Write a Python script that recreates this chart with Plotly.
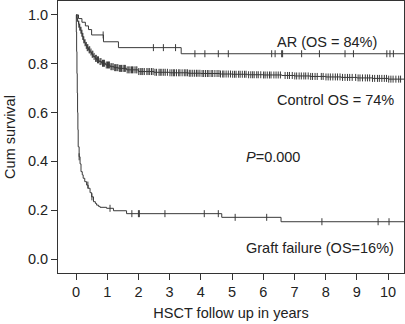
import numpy as np
import plotly.graph_objects as go

# ---- data ----
ar_t = [0, 0.08, 0.19, 0.30, 0.40, 0.50, 0.88, 1.36, 3.37, 10.6]
ar_s = [1.0, 0.985, 0.970, 0.955, 0.940, 0.918, 0.890, 0.866, 0.841, 0.841]
ar_cens = [0.87, 2.48, 2.80, 3.19, 3.81, 4.13, 4.56, 4.88, 6.27, 6.38, 6.59, 6.62,
           7.23, 7.80, 8.62, 8.89, 9.96, 10.06, 10.17]

ctrl_t = [0, 0.02, 0.05, 0.08, 0.11, 0.14, 0.17, 0.20, 0.23, 0.27, 0.31, 0.35, 0.40,
          0.45, 0.50, 0.55, 0.61, 0.66, 0.74, 0.82, 0.95, 1.09, 1.22, 1.36, 1.62, 2.0,
          2.5, 3.0, 3.6, 4.0, 4.6, 5.0, 5.5, 6.0, 6.6, 7.0, 7.5, 8.0, 8.5, 9.0, 9.5,
          10.0, 10.6]
ctrl_s = [1.0, 0.986, 0.975, 0.962, 0.950, 0.937, 0.925, 0.912, 0.898, 0.886, 0.875,
          0.866, 0.857, 0.848, 0.839, 0.830, 0.822, 0.816, 0.809, 0.802, 0.795, 0.788,
          0.784, 0.781, 0.775, 0.768, 0.765, 0.763, 0.761, 0.760, 0.758, 0.757, 0.755,
          0.754, 0.752, 0.750, 0.748, 0.746, 0.744, 0.742, 0.740, 0.737, 0.735]
ctrl_cens = [0.04, 0.09, 0.12, 0.16, 0.19, 0.22, 0.25, 0.29, 0.33, 0.36, 0.38, 0.42,
             0.44, 0.48, 0.52, 0.54, 0.58, 0.63, 0.65, 0.69, 0.72, 0.77, 0.80, 0.85,
             0.88, 0.91, 0.97, 1.01, 1.04, 1.07, 1.12, 1.15, 1.19, 1.24, 1.27, 1.31,
             1.34, 1.39, 1.43, 1.46, 1.51, 1.55, 1.58, 1.64, 1.69, 1.73, 1.78, 1.81,
             1.86, 1.92, 1.95, 2.01, 2.06, 2.11, 2.14, 2.19, 2.27, 2.31, 2.36, 2.42,
             2.47, 2.53, 2.58, 2.66, 2.70, 2.75, 2.81, 2.86, 2.93, 3.01, 3.07, 3.12,
             3.16, 3.22, 3.29, 3.33, 3.40, 3.47, 3.52, 3.57, 3.63, 3.68, 3.74, 3.80,
             3.86, 3.91, 3.97, 4.04, 4.09, 4.15, 4.21, 4.26, 4.33, 4.38, 4.45, 4.52,
             4.58, 4.63, 4.70, 4.74, 4.81, 4.88, 4.95, 5.02, 5.08, 5.13, 5.21, 5.26,
             5.33, 5.40, 5.45, 5.53, 5.60, 5.66, 5.71, 5.79, 5.84, 5.92, 6.01, 6.06,
             6.13, 6.20, 6.25, 6.34, 6.41, 6.48, 6.55, 6.70, 6.78, 6.84, 6.93, 7.01,
             7.07, 7.15, 7.22, 7.30, 7.36, 7.44, 7.52, 7.58, 7.66, 7.73, 7.86, 7.92,
             8.01, 8.08, 8.15, 8.23, 8.31, 8.38, 8.46, 8.54, 8.62, 8.70, 8.77, 8.85,
             8.96, 9.04, 9.10, 9.18, 9.27, 9.34, 9.41, 9.50, 9.57, 9.66, 9.72, 9.80,
             9.88, 9.95, 10.02, 10.09, 10.16, 10.25, 10.34, 10.40]

gf_t = [0, 0.01, 0.02, 0.03, 0.04, 0.05, 0.06, 0.07, 0.10, 0.13, 0.16, 0.20, 0.23,
        0.28, 0.34, 0.39, 0.45, 0.50, 0.56, 0.62, 0.66, 0.72, 0.77, 0.98, 1.20, 1.62,
        4.67, 6.57, 10.6]
gf_s = [1.0, 0.93, 0.85, 0.76, 0.68, 0.60, 0.53, 0.46, 0.419, 0.39, 0.358, 0.345,
        0.331, 0.317, 0.303, 0.290, 0.272, 0.255, 0.235, 0.228, 0.221, 0.216, 0.212,
        0.208, 0.198, 0.186, 0.171, 0.153, 0.153]
gf_cens = [0.10, 0.38, 0.51, 1.09, 1.79, 2.00, 2.03, 2.85, 4.11, 4.56, 5.10, 6.11,
           7.88, 9.68, 10.03]

x_ticks = [0, 1, 2, 3, 4, 5, 6, 7, 8, 9, 10]
y_ticks = [0.0, 0.2, 0.4, 0.6, 0.8, 1.0]

LINE = "#3a3a3a"
FONT = "Liberation Sans, Arial, sans-serif"
FS = 14.5


def surv_at(ts, ss, c):
    idx = np.searchsorted(np.array(ts), np.array(c), side="right") - 1
    return [ss[i] for i in idx]


fig = go.Figure()
for ts, ss, cs in [(gf_t, gf_s, gf_cens), (ctrl_t, ctrl_s, ctrl_cens), (ar_t, ar_s, ar_cens)]:
    fig.add_trace(go.Scatter(x=ts, y=ss, mode="lines", line=dict(color=LINE, width=1, shape="hv"),
                             showlegend=False, hoverinfo="skip"))
    fig.add_trace(go.Scatter(x=cs, y=surv_at(ts, ss, cs), mode="markers",
                             marker=dict(symbol="line-ns", size=5,
                                         line=dict(color=LINE, width=1)),
                             showlegend=False, hoverinfo="skip"))

ann = dict(showarrow=False, font=dict(family=FONT, size=FS, color="#222"))
fig.add_annotation(x=8.04, y=0.889, text="AR (OS = 84%)", **ann)
fig.add_annotation(x=8.3, y=0.652, text="Control OS = 74%", **ann)
fig.add_annotation(x=6.3, y=0.419, text="<i>P</i>=0.000", **ann)
fig.add_annotation(x=7.82, y=0.044, text="Graft failure (OS=16%)", **ann)

axis_common = dict(showline=True, linecolor="#333", linewidth=1, mirror=True,
                   ticks="outside", ticklen=6, tickcolor="#333", showgrid=False,
                   zeroline=False, automargin=False,
                   tickfont=dict(family=FONT, size=FS, color="#222"))
fig.update_xaxes(range=[-0.577, 10.51], tickvals=x_ticks, **axis_common,
                 title=dict(text="HSCT follow up in years", font=dict(family=FONT, size=FS, color="#222"),
                            standoff=8))
fig.update_yaxes(range=[-0.057, 1.057], tickvals=y_ticks, tickformat=".1f", **axis_common,
                 title=dict(text="Cum survival", font=dict(family=FONT, size=FS, color="#222"),
                            standoff=8))
fig.update_layout(width=405, height=324, margin=dict(l=58, r=1, t=1, b=51),
                  plot_bgcolor="white", paper_bgcolor="white")
fig.write_html("out.html", config={"displayModeBar": False},
               post_script="document.body.style.margin='0';")
